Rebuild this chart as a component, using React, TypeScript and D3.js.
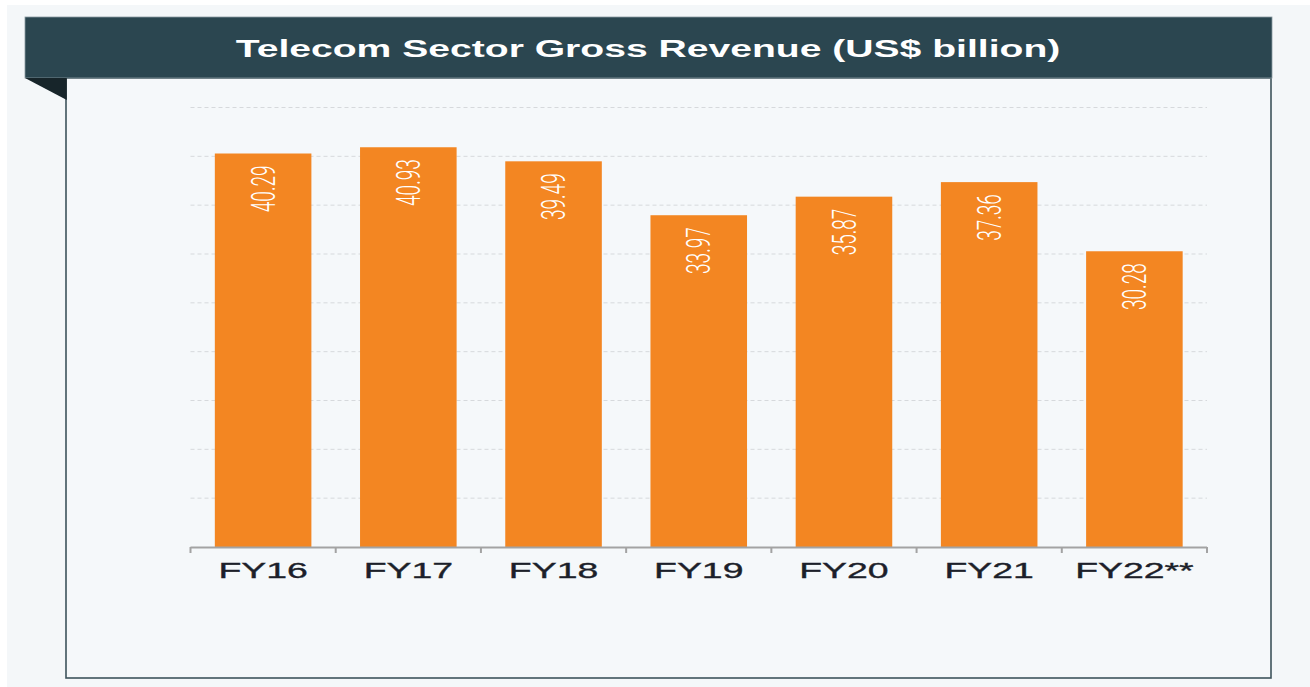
import React from "react";
import * as d3 from "d3";

const categories = ["FY16", "FY17", "FY18", "FY19", "FY20", "FY21", "FY22**"];
const revenue = [40.29, 40.93, 39.49, 33.97, 35.87, 37.36, 30.28];
const gridTicks = [5, 10, 15, 20, 25, 30, 35, 40, 45];
const title = "Telecom Sector Gross Revenue (US$ billion)";

const W = 1310;
const H = 687;
const SX = 1.7; // horizontal stretch of the reference image

export default function App() {
  const x = d3
    .scaleBand<string>()
    .domain(categories)
    .range([190.5, 1207])
    .paddingInner(0.335)
    .paddingOuter(0.1675);
  const y = d3.scaleLinear().domain([0, 45]).range([547, 107.5]);
  const step = x.step();
  const boundaries = categories.map((c) => (x(c) as number) - (step * 0.335) / 2);
  boundaries.push(1207);

  return (
    <svg
      width={W}
      height={H}
      style={{ position: "absolute", left: 0, top: 0, display: "block" }}
    >
      <rect x={0} y={0} width={W} height={H} fill="#ffffff" />
      <rect x={7} y={5} width={W - 7} height={H - 5} fill="#f4f7f9" />

      {/* panel */}
      <rect x={66} y={78} width={1205} height={600} fill="#f5f8fa" stroke="#3e535c" strokeWidth={1.6} />

      {/* header */}
      <rect x={25} y={17} width={1247} height={61} fill="#2b4650" stroke="#8a9aa0" strokeWidth={0.8} />
      <path d="M25,78 L66.8,78 L66.8,100 Z" fill="#17252a" />
      <text
        transform={`translate(648,57) scale(${SX},1)`}
        textAnchor="middle"
        fontFamily="'Liberation Sans', Arial, sans-serif"
        fontWeight="bold"
        fontSize={23}
        fill="#ffffff"
      >
        {title}
      </text>

      {/* grid */}
      {gridTicks.map((t) => (
        <line
          key={t}
          x1={190.5}
          x2={1207}
          y1={y(t)}
          y2={y(t)}
          stroke="#d6d9dc"
          strokeWidth={1}
          strokeDasharray="4,3"
        />
      ))}

      {/* bars */}
      {categories.map((c, i) => (
        <rect
          key={c}
          x={x(c)}
          y={y(revenue[i])}
          width={x.bandwidth()}
          height={y(0) - y(revenue[i])}
          fill="#f38622"
        />
      ))}

      {/* value labels */}
      {categories.map((c, i) => (
        <text
          key={c}
          transform={`translate(${(x(c) as number) + x.bandwidth() / 2},${y(revenue[i]) + 12}) scale(${SX},1) rotate(-90)`}
          textAnchor="end"
          dy="0.36em"
          fontFamily="Roboto, 'Noto Sans', sans-serif"
          fontWeight={300}
          fontSize={19}
          fill="#ffffff"
        >
          {revenue[i].toFixed(2)}
        </text>
      ))}

      {/* axis */}
      <line x1={190.5} x2={1207} y1={547.5} y2={547.5} stroke="#a3a3a3" strokeWidth={2} />
      {boundaries.map((b, i) => (
        <line key={i} x1={b} x2={b} y1={547} y2={553} stroke="#a3a3a3" strokeWidth={2} />
      ))}
      {categories.map((c) => (
        <text
          key={c}
          transform={`translate(${(x(c) as number) + x.bandwidth() / 2},578) scale(${SX},1)`}
          textAnchor="middle"
          fontFamily="'Liberation Sans', Arial, sans-serif"
          fontSize={22}
          fill="#1c1f2a"
          stroke="#1c1f2a"
          strokeWidth={0.35}
        >
          {c}
        </text>
      ))}
    </svg>
  );
}
